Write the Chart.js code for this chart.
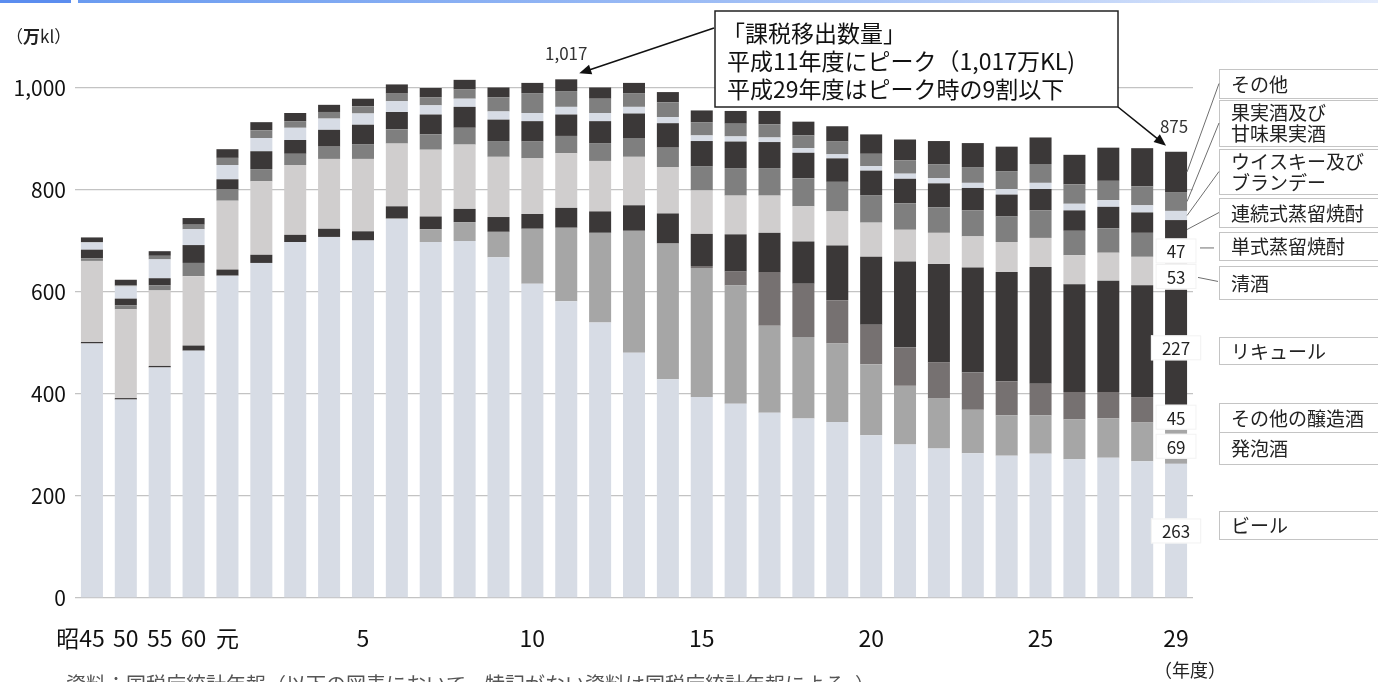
<!DOCTYPE html>
<html lang="ja">
<head>
<meta charset="utf-8">
<title>酒類の課税移出数量の推移</title>
<script src="https://cdn.jsdelivr.net/npm/chart.js@4.4.1/dist/chart.umd.min.js"></script>
<style>
html,body{margin:0;padding:0;background:#fff;}
#wrap{width:1378px;height:682px;position:relative;overflow:hidden;}
canvas{display:block;}
</style>
</head>
<body>
<div id="wrap"><canvas id="c" width="1378" height="682"></canvas></div>
<script>
// 年度（昭和45年度〜平成29年度）
const categories = ['昭45','昭50','昭55','昭60','平元','平2','平3','平4','平5','平6','平7','平8','平9','平10','平11','平12','平13','平14','平15','平16','平17','平18','平19','平20','平21','平22','平23','平24','平25','平26','平27','平28','平29'];
// 軸に表示する年度ラベル
const tickLabels = ['昭45\u3000','50','55','60','元','','','','5','','','','','10','','','','','15','','','','','20','','','','','25','','','','29'];

// 品目名（下から積み上げる順）
const seriesNames = ['ビール','発泡酒','その他の醸造酒','リキュール','清酒','単式蒸留焼酎','連続式蒸留焼酎','ウイスキー及び\nブランデー','果実酒及び\n甘味果実酒','その他'];

// 課税移出数量（万kl）
const beer        = [499,389,452,485,632,657,698,708,701,743,698,700,668,616,582,540,481,429,394,381,363,352,345,319,301,293,284,279,283,272,275,268,263];
const happoshu    = [0,0,0,0,0,0,0,0,0,1,25,37,50,108,144,176,239,266,253,232,171,160,154,139,115,98,85,79,75,78,77,76,69];
const otherBrewed = [0,0,0,0,0,0,0,0,0,0,0,0,0,0,0,0,0,0,4,27,105,104,85,78,75,71,73,67,62,54,52,50,45];
const liqueur     = [3,3,3,10,12,16,14,16,18,24,25,26,29,29,39,42,50,59,63,73,77,83,107,133,169,193,206,214,229,211,218,219,227];
const sake        = [159,174,148,136,135,144,137,137,142,123,131,126,118,109,107,99,95,91,85,76,73,69,67,67,62,61,61,59,57,57,55,56,53];
const shochuSingle= [5,8,10,26,22,24,22,24,29,28,30,33,31,33,34,35,37,38,47,54,54,55,58,54,52,50,51,50,54,48,48,47,47];
const shochuCont  = [17,13,14,35,20,35,27,33,38,34,39,41,42,40,42,43,48,48,50,52,51,50,46,48,48,47,44,43,42,40,42,40,37];
const whisky      = [14,24,37,31,28,26,24,22,22,21,18,16,16,16,15,16,13,12,11,10,9,9,8,9,10,10,10,11,12,13,13,14,18];
const fruitWine   = [1,2,7,9,14,15,13,13,14,15,16,18,28,39,31,28,27,29,26,25,26,25,25,24,26,27,31,35,37,38,38,37,37];
const others      = [9,11,9,13,17,16,16,14,15,18,18,19,19,20,23,22,20,20,23,25,26,27,30,38,41,46,47,48,52,58,65,75,79];

const seriesValues = [beer,happoshu,otherBrewed,liqueur,sake,shochuSingle,shochuCont,whisky,fruitWine,others];
const seriesColors = ['#d7dce5','#a6a6a6','#767171','#3b3838','#d0cece','#7f7f7f','#3b3838','#d7dce5','#7f7f7f','#3b3838'];

// 縦軸目盛
const yTicks = [0,200,400,600,800,1000];

const FONT = '"Noto Sans CJK JP", "Noto Sans", sans-serif';
const totals = categories.map((_, i) => seriesValues.reduce((s, arr) => s + arr[i], 0));
const peakIdx = totals.indexOf(Math.max(...totals));
const lastIdx = categories.length - 1;

function fmt(v){ return v.toLocaleString('en-US'); }

function arrow(ctx, x1, y1, x2, y2){
  const ang = Math.atan2(y2 - y1, x2 - x1);
  const len = 12, half = 5;
  ctx.save();
  ctx.strokeStyle = '#111'; ctx.fillStyle = '#111'; ctx.lineWidth = 1.6;
  ctx.beginPath();
  ctx.moveTo(x1, y1);
  ctx.lineTo(x2 - Math.cos(ang) * len * 0.8, y2 - Math.sin(ang) * len * 0.8);
  ctx.stroke();
  ctx.beginPath();
  ctx.moveTo(x2, y2);
  ctx.lineTo(x2 - Math.cos(ang) * len - Math.sin(ang) * half, y2 - Math.sin(ang) * len + Math.cos(ang) * half);
  ctx.lineTo(x2 - Math.cos(ang) * len + Math.sin(ang) * half, y2 - Math.sin(ang) * len - Math.cos(ang) * half);
  ctx.closePath();
  ctx.fill();
  ctx.restore();
}

// 凡例ボックス（上から：その他 … ビール）
const legendBoxes = [
  {ds:9, top:69,  bottom:98},
  {ds:8, top:100, bottom:146},
  {ds:7, top:149, bottom:194},
  {ds:6, top:198, bottom:227},
  {ds:5, top:232, bottom:260},
  {ds:4, top:266, bottom:299},
  {ds:3, top:337, bottom:364},
  {ds:2, top:403, bottom:432},
  {ds:1, top:432, bottom:464},
  {ds:0, top:511, bottom:539}
];

const decor = {
  id: 'decor',
  afterDraw(chart){
    const {ctx, scales:{x, y}} = chart;
    ctx.save();

    // 上部の帯
    ctx.fillStyle = '#5b8def';
    ctx.fillRect(0, 0, 71, 3);
    const g = ctx.createLinearGradient(78, 0, 1378, 0);
    g.addColorStop(0, '#6a9bf0');
    g.addColorStop(0.6, '#a9c4f6');
    g.addColorStop(1, '#e4ecfc');
    ctx.fillStyle = g;
    ctx.fillRect(78, 0, 1300, 3);

    // 単位
    ctx.fillStyle = '#222';
    ctx.font = '17px ' + FONT;
    ctx.textAlign = 'left'; ctx.textBaseline = 'middle';
    ctx.fillText('（', 6, 37);
    ctx.font = 'bold 17px ' + FONT;
    ctx.fillText('万', 23, 37);
    ctx.font = '17px ' + FONT;
    ctx.fillText('kl）', 40, 37);

    // 最終年度の積み上げ区分ラベル
    const lastMeta = chart.getDatasetMeta(0).data[lastIdx];
    const bx = lastMeta.x, bHalf = lastMeta.width / 2;
    ctx.font = '17px ' + FONT;
    ctx.textAlign = 'center'; ctx.textBaseline = 'middle';
    let cum = 0;
    const segMid = [];
    for (let d = 0; d < seriesValues.length; d++){
      const v = seriesValues[d][lastIdx];
      segMid.push(y.getPixelForValue(cum + v / 2));
      cum += v;
    }
    for (let d = 0; d <= 5; d++){
      const v = seriesValues[d][lastIdx];
      const cy = segMid[d];
      const tw = ctx.measureText(String(v)).width;
      const w = tw + 22, h = 25;
      ctx.fillStyle = '#ffffff';
      ctx.fillRect(bx - w / 2, cy - h / 2, w, h);
      ctx.strokeStyle = '#f2f2f2'; ctx.lineWidth = 1;
      ctx.strokeRect(bx - w / 2 + 0.5, cy - h / 2 + 0.5, w - 1, h - 1);
      ctx.fillStyle = '#222';
      ctx.fillText(String(v), bx, cy + 1);
    }

    // 合計値ラベル
    ctx.font = '17px ' + FONT;
    ctx.fillStyle = '#333';
    const peakX = chart.getDatasetMeta(0).data[peakIdx].x;
    const peakTop = y.getPixelForValue(totals[peakIdx]);
    ctx.fillText(fmt(totals[peakIdx]), peakX, peakTop - 26);
    const lastTop = y.getPixelForValue(totals[lastIdx]);
    ctx.fillText(fmt(totals[lastIdx]), bx - 2, lastTop - 25);

    // 説明ボックス
    const boxL = 715, boxT = 11, boxR = 1118, boxB = 107;
    ctx.fillStyle = '#fff';
    ctx.fillRect(boxL, boxT, boxR - boxL, boxB - boxT);
    ctx.strokeStyle = '#222'; ctx.lineWidth = 1.5;
    ctx.strokeRect(boxL, boxT, boxR - boxL, boxB - boxT);
    ctx.fillStyle = '#111';
    ctx.font = '23px ' + FONT;
    ctx.textAlign = 'left'; ctx.textBaseline = 'middle';
    ctx.fillText('「課税移出数量」', 722, 33);
    ctx.fillText('平成11年度にピーク（' + fmt(totals[peakIdx]) + '万KL)', 727, 61);
    ctx.fillText('平成29年度はピーク時の9割以下', 727, 89);

    arrow(ctx, boxL - 1, 28, peakX + 13, peakTop - 6);
    arrow(ctx, boxR, boxB, bx - 10, lastTop - 6);

    // 凡例
    ctx.font = '19px ' + FONT;
    for (const b of legendBoxes){
      ctx.strokeStyle = '#c4c4c4'; ctx.lineWidth = 1;
      ctx.fillStyle = '#fff';
      ctx.fillRect(1219.5, b.top + 0.5, 200, b.bottom - b.top);
      ctx.strokeRect(1219.5, b.top + 0.5, 200, b.bottom - b.top);
      const lines = seriesNames[b.ds].split('\n');
      const mid = (b.top + b.bottom) / 2;
      ctx.fillStyle = '#222';
      ctx.textAlign = 'left';
      if (lines.length === 1){
        ctx.fillText(lines[0], 1231, mid + 1);
      } else {
        ctx.fillText(lines[0], 1231, mid - 10);
        ctx.fillText(lines[1], 1231, mid + 11);
      }
    }

    // 引き出し線
    ctx.strokeStyle = '#6f6f6f'; ctx.lineWidth = 1;
    const right = bx + bHalf;
    for (const b of legendBoxes.slice(0, 4)){
      const mid = (b.top + b.bottom) / 2;
      ctx.beginPath();
      ctx.moveTo(1219, mid);
      ctx.lineTo(right, segMid[b.ds]);
      ctx.stroke();
    }
    ctx.beginPath();
    ctx.moveTo(1200, segMid[5] - 3); ctx.lineTo(1214, segMid[5] - 3);
    ctx.stroke();
    ctx.beginPath();
    ctx.moveTo(1198, segMid[4] + 1); ctx.lineTo(1218, segMid[4] + 5);
    ctx.stroke();

    // 年度
    ctx.fillStyle = '#222';
    ctx.font = '18px ' + FONT;
    ctx.textAlign = 'center';
    ctx.fillText('（年度）', 1190, 670);

    // 資料
    ctx.fillStyle = '#555';
    ctx.font = '20px ' + FONT;
    ctx.textAlign = 'left'; ctx.textBaseline = 'top';
    ctx.fillText('資料：国税庁統計年報（以下の図表において、特記がない資料は国税庁統計年報による。）', 66, 674);

    ctx.restore();
  }
};

const datasets = seriesNames.map((name, d) => ({
  label: name.replace('\n', ''),
  data: seriesValues[d],
  backgroundColor: seriesColors[d],
  borderWidth: 0,
  barPercentage: 0.65,
  categoryPercentage: 1.0
}));

new Chart(document.getElementById('c'), {
  type: 'bar',
  data: { labels: categories, datasets },
  options: {
    responsive: false,
    animation: false,
    devicePixelRatio: 1,
    layout: { padding: { left: 0, right: 185, top: 37, bottom: 0 } },
    plugins: { legend: { display: false }, tooltip: { enabled: false } },
    scales: {
      x: {
        stacked: true,
        grid: { display: false },
        border: { display: false },
        ticks: {
          autoSkip: false, maxRotation: 0, minRotation: 0,
          padding: 18,
          color: '#111',
          font: { family: FONT, size: 23 },
          callback: (v, i) => tickLabels[i]
        },
        afterFit: s => { s.height = 84; }
      },
      y: {
        stacked: true,
        min: 0, max: 1100,
        afterBuildTicks: s => { s.ticks = yTicks.map(v => ({ value: v })); },
        grid: { color: '#c3c3c3', lineWidth: 1.3, drawTicks: false },
        border: { display: false },
        ticks: {
          padding: 9,
          color: '#111',
          font: { family: FONT, size: 21 },
          callback: v => fmt(v)
        },
        afterFit: s => { s.width = 75; }
      }
    }
  },
  plugins: [decor]
});
</script>
</body>
</html>
